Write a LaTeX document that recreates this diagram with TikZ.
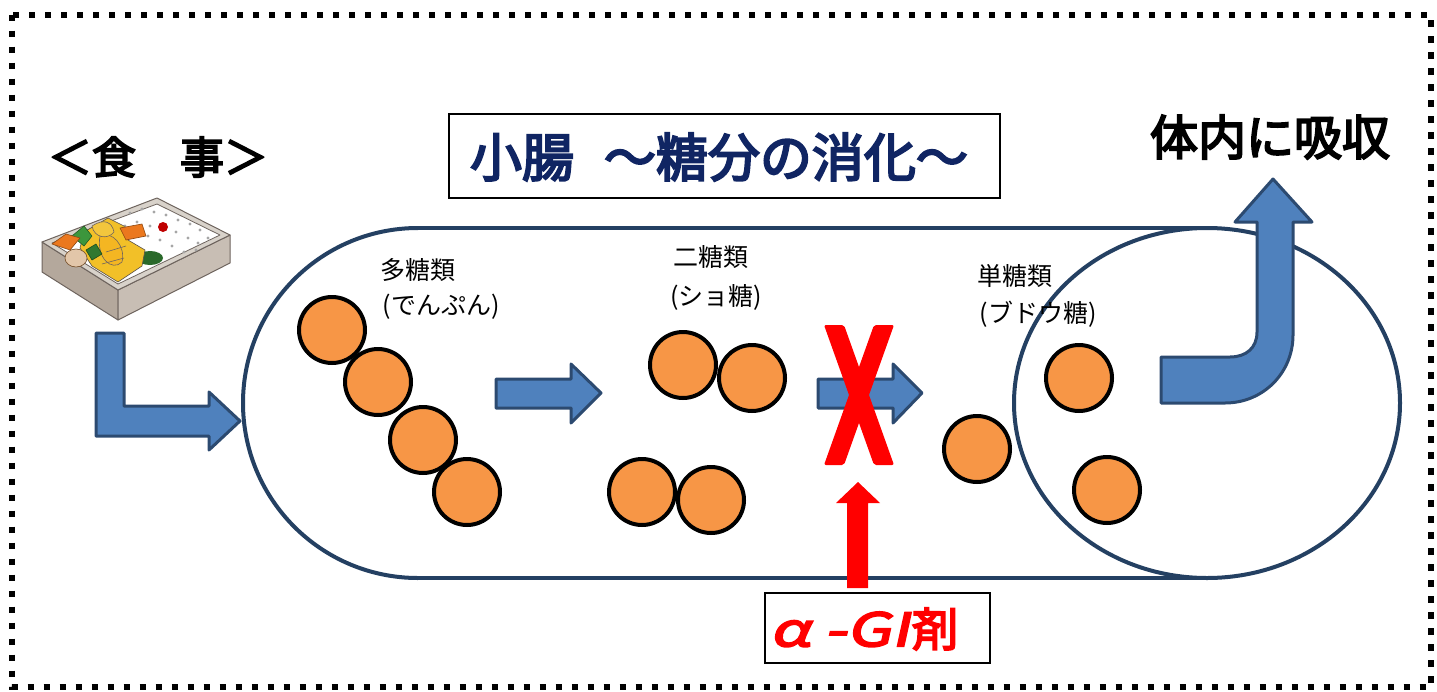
\documentclass[tikz,border=0pt]{standalone}
\usepackage{fontspec}
\newfontfamily\jp{Noto Sans CJK JP}
\newfontfamily\jpb{Noto Sans CJK JP}[AutoFakeBold=4]
\newfontfamily\jpbi{Noto Sans CJK JP}[AutoFakeBold=4,FakeSlant=0.22,FakeStretch=1.4]
\definecolor{navy}{RGB}{36,64,98}
\definecolor{titleblue}{RGB}{16,37,99}
\definecolor{arrowfill}{RGB}{79,129,189}
\definecolor{arrowline}{RGB}{44,74,112}
\definecolor{sugarfill}{RGB}{247,150,70}
\definecolor{boxtan}{RGB}{180,168,156}
\definecolor{boxlight}{RGB}{200,190,180}
\definecolor{boxedge}{RGB}{110,100,94}
\definecolor{tempura}{RGB}{242,192,40}
\definecolor{carrot}{RGB}{235,120,30}
\definecolor{leaf}{RGB}{60,150,60}
\begin{document}
\begin{tikzpicture}[x=1pt,y=-1pt,
  sugar/.style={circle,draw=black,line width=4pt,fill=sugarfill,minimum size=66pt,inner sep=0pt},
  blockarrow/.style={fill=arrowfill,draw=arrowline,line width=3pt,line join=round},
  redshape/.style={fill=red,draw=none},
  label/.style={font=\jp\fontsize{25}{29}\selectfont,align=center,inner sep=0pt},
  framebox/.style={draw=black,line width=2.2pt}]
\useasboundingbox (0,0) rectangle (1437,691);

% dotted outer frame
\draw[line width=6pt,dash pattern=on 6.5pt off 9.5pt] (12,14.5) rectangle (1431,687);

% heading box
\draw[framebox] (449,114) rectangle (1000,198);
\node[font=\jpb\bfseries\fontsize{52}{58}\selectfont,text=titleblue,inner sep=0pt] (title) at (719,157) {小腸\hspace{30pt}～糖分の消化～};

% meal heading and absorption heading
\node[font=\jpb\bfseries\fontsize{44}{48}\selectfont,inner sep=0pt] (meal) at (158,157) {＜食　事＞};
\node[font=\jpb\bfseries\fontsize{48}{52}\selectfont,inner sep=0pt] (absorb) at (1270,137) {体内に吸収};

% lunch box
\begin{scope}[line join=round]
  \fill[boxtan,draw=boxedge,line width=1pt] (42,242) -- (118,290) -- (118,320) -- (42,272) -- cycle;
  \fill[boxlight,draw=boxedge,line width=1pt] (118,290) -- (230,235) -- (230,263) -- (118,320) -- cycle;
  \fill[boxlight!70!white,draw=boxedge,line width=1pt] (42,242) -- (157,198) -- (230,235) -- (118,290) -- cycle;
  \fill[white,draw=boxedge,line width=0.8pt] (52,243) -- (157,204) -- (220,235) -- (118,284) -- cycle;
  % rice with sesame dots
  \foreach \p in {(130,213),(142,209),(154,212),(166,215),(178,220),(190,224),(200,230),
                  (137,222),(150,226),(176,232),(188,238),(198,243),(160,240),(172,246),
                  (148,236),(184,252),(196,250),(208,238),(125,226),(136,234)}
    \fill[gray!70] \p circle (1.6pt);
  \fill[red!75!black] (163,227) circle (5pt);
  % side dishes
  \fill[leaf!70!black] (150,258) ellipse (13pt and 7pt);
  \fill[tempura,draw=boxedge!80!black,line width=0.6pt]
    (84,232) -- (108,218) -- (124,226) -- (128,240) -- (145,250) -- (142,266) -- (118,282) -- (92,266) -- (80,248) -- cycle;
  \fill[tempura!85!orange,draw=boxedge,line width=0.6pt]
    (100,236) .. controls (112,230) and (126,246) .. (122,262) .. controls (112,272) and (96,258) .. cycle;
  \fill[tempura!90!white,draw=boxedge,line width=0.6pt]
    (92,226) .. controls (104,218) and (112,222) .. (114,232) .. controls (108,240) and (94,238) .. cycle;
  \fill[leaf,draw=leaf!60!black,line width=0.6pt] (72,236) -- (84,226) -- (92,236) -- (84,246) -- cycle;
  \fill[leaf!80!black,draw=leaf!50!black,line width=0.6pt] (86,250) -- (96,244) -- (102,254) -- (92,260) -- cycle;
  \fill[carrot,draw=carrot!60!black,line width=0.6pt] (52,244) -- (66,234) -- (80,238) -- (70,250) -- cycle;
  \fill[carrot,draw=carrot!60!black,line width=0.6pt] (120,228) -- (142,224) -- (146,236) -- (126,240) -- cycle;
  \fill[brown!45!white,draw=brown!60!black,line width=0.6pt] (76,258) ellipse (11pt and 9pt);
  \draw[boxedge,line width=0.6pt] (106,252) -- (126,246) (102,264) -- (124,258);
\end{scope}

% small intestine outline
\draw[navy,line width=4pt] (418,228) -- (1207,228) (418,578) -- (1207,578);
\draw[navy,line width=4pt] (418,228) arc[start angle=90,end angle=270,radius=175pt];
\draw[navy,line width=4pt] (1207,403) ellipse[x radius=193pt,y radius=175pt];

% section labels
\node[label] (poly) at (418,270) {多糖類};
\node[label] (polysub) at (441,307) {(でんぷん)};
\node[label] (di) at (711,257) {二糖類};
\node[label] (disub) at (716,297) {(ショ糖)};
\node[label] (mono) at (1015,276) {単糖類};
\node[label] (monosub) at (1038,314) {(ブドウ糖)};

% polysaccharide chain
\node[sugar] (p1) at (332,330) {};
\node[sugar] (p2) at (378,382) {};
\node[sugar] (p3) at (423,440) {};
\node[sugar] (p4) at (467,492) {};
% disaccharides
\node[sugar] (d1) at (683,365) {};
\node[sugar] (d2) at (752,378) {};
\node[sugar] (d3) at (642,492) {};
\node[sugar] (d4) at (711,500) {};
% monosaccharides
\node[sugar] (m1) at (977,449) {};
\node[sugar] (m2) at (1079,378) {};
\node[sugar] (m3) at (1107,490) {};

% flow arrows
\draw[blockarrow] (96,333) -- (124,333) -- (124,406) -- (209,406) -- (209,392) -- (240,421)
  -- (209,450) -- (209,436) -- (96,436) -- cycle;
\draw[blockarrow] (496,379) -- (571,379) -- (571,364) -- (601,393) -- (571,423) -- (571,408)
  -- (496,408) -- cycle;
\draw[blockarrow] (818,379) -- (893,379) -- (893,364) -- (922,393) -- (893,423) -- (893,408)
  -- (818,408) -- cycle;
\draw[blockarrow] (1161,403) -- (1225,403) .. controls (1263,403) and (1293,373) .. (1293,335)
  -- (1293,222) -- (1312,222) -- (1273,179) -- (1235,222) -- (1257,222) -- (1257,332)
  .. controls (1257,348) and (1246,357) .. (1230,357) -- (1161,357) -- cycle;

% blocking cross
\fill[redshape,rounded corners=2pt] (824,325) -- (844,325) -- (894,465) -- (874,465) -- cycle;
\fill[redshape,rounded corners=2pt] (874,325) -- (894,325) -- (844,465) -- (824,465) -- cycle;

% inhibitor arrow and label
\fill[redshape] (847,588) -- (847,503) -- (836,503) -- (858,482) -- (880,503) -- (868,503)
  -- (868,588) -- cycle;
\draw[framebox] (765,593) rectangle (990,663);
\node[font=\jpb\bfseries\fontsize{46}{52}\selectfont,text=red,inner sep=0pt,anchor=west] (agi) at (770,629)
  {{\jpbi\bfseries α}\hspace{14pt}{\jpbi\bfseries -GI}\hspace{2pt}剤};
\end{tikzpicture}
\end{document}
